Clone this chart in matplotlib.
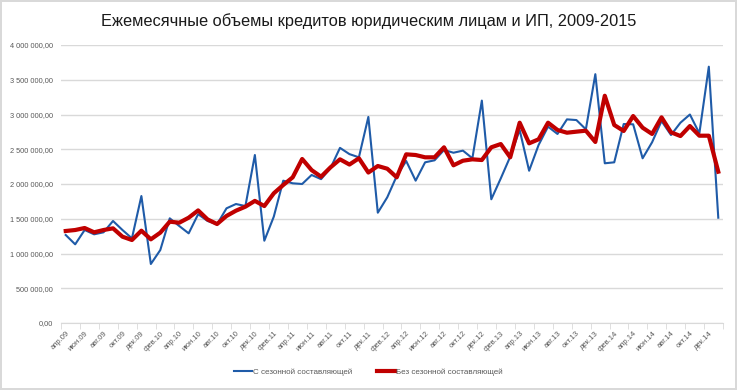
import matplotlib.pyplot as plt
from matplotlib.ticker import FuncFormatter, FixedLocator

plt.rcParams['font.family'] = ['Liberation Sans', 'DejaVu Sans']

# Месяцы и годы (апр.09 - янв.15)
months = ["янв", "фев", "мар", "апр", "май", "июн", "июл", "авг", "сен", "окт", "ноя", "дек"]
start_month = 3  # апр
start_year = 9
n_points = 70

# Объемы кредитов, руб. (с сезонной составляющей)
with_season = [
    1266000, 1132000, 1338000, 1276000, 1305000, 1468000, 1338000, 1218000, 1827000, 849000,
    1050000, 1506000, 1396000, 1290000, 1565000, 1468000, 1420000, 1650000, 1712000, 1683000,
    2417000, 1184000, 1530000, 2048000, 2010000, 2000000, 2130000, 2070000, 2230000, 2520000,
    2430000, 2384000, 2965000, 1587000, 1809000, 2115000, 2331000, 2048000, 2312000, 2341000,
    2489000, 2450000, 2480000, 2370000, 3200000, 1780000, 2080000, 2393000, 2777000, 2191000,
    2561000, 2825000, 2720000, 2930000, 2920000, 2787000, 3580000, 2298000, 2312000, 2863000,
    2859000, 2370000, 2600000, 2906000, 2705000, 2882000, 3000000, 2729000, 3688000, 1515000,
]

# Объемы кредитов, руб. (без сезонной составляющей)
without_season = [
    1324000, 1338000, 1367000, 1305000, 1338000, 1362000, 1242000, 1194000, 1328000, 1204000,
    1300000, 1458000, 1443000, 1515000, 1620000, 1490000, 1424000, 1540000, 1616000, 1674000,
    1757000, 1683000, 1866000, 1986000, 2096000, 2360000, 2200000, 2105000, 2240000, 2355000,
    2280000, 2370000, 2165000, 2259000, 2220000, 2096000, 2427000, 2417000, 2384000, 2384000,
    2528000, 2269000, 2335000, 2355000, 2345000, 2528000, 2575000, 2384000, 2882000, 2585000,
    2643000, 2882000, 2777000, 2738000, 2753000, 2767000, 2605000, 3270000, 2849000, 2763000,
    2978000, 2810000, 2720000, 2959000, 2744000, 2690000, 2834000, 2695000, 2695000, 2177000,
]

labels = []
for i in range(n_points):
    m = (start_month + i) % 12
    y = start_year + (start_month + i) // 12
    labels.append("%s.%02d" % (months[m], y))

x = list(range(n_points))

fig = plt.figure(figsize=(7.37, 3.9), dpi=100)
fig.patch.set_edgecolor("#D9D9D9")
fig.patch.set_linewidth(1.5)
ax = fig.add_axes([61 / 737, 1 - 323 / 390, 662 / 737, 278 / 390])

ax.plot(x, with_season, color="#1F5BA8", lw=1.5, label="С сезонной составляющей", zorder=3)
ax.plot(x, without_season, color="#C00000", lw=3.0, label="Без сезонной составляющей", zorder=4)

ax.set_xlim(-0.5, n_points - 0.5)
ax.set_ylim(0, 4000000)
ax.set_yticks(range(0, 4000001, 500000))

def fmt(v, pos):
    s = "{:,.0f}".format(v).replace(",", " ")
    return s + ",00"

ax.yaxis.set_major_formatter(FuncFormatter(fmt))
ax.grid(axis="y", color="#D9D9D9", lw=1)
ax.set_axisbelow(True)

ax.set_xticks(x[::2])
ax.set_xticklabels(labels[::2], rotation=45, ha="right", rotation_mode="anchor")
ax.xaxis.set_minor_locator(FixedLocator([i - 0.5 for i in range(0, n_points + 1, 2)]))
ax.tick_params(axis="x", which="major", length=0, pad=5, labelsize=5.5, labelcolor="#595959")
ax.tick_params(axis="x", which="minor", length=4, color="#D9D9D9")
ax.tick_params(axis="y", length=0, labelsize=5.3, labelcolor="#595959", pad=6)

for side in ["top", "right", "left"]:
    ax.spines[side].set_visible(False)
ax.spines["bottom"].set_color("#D9D9D9")

fig.text(0.5, 1 - 21 / 390, "Ежемесячные объемы кредитов юридическим лицам и ИП, 2009-2015",
         ha="center", va="center", fontsize=11.8, color="#1A1A1A")

fig.legend(loc="center", bbox_to_anchor=(0.5, 1 - 372 / 390), ncol=2, frameon=False,
           fontsize=5.8, handlelength=2.2, handletextpad=0.2, columnspacing=3,
           labelcolor="#595959")

fig.savefig("out.png", dpi=100)
